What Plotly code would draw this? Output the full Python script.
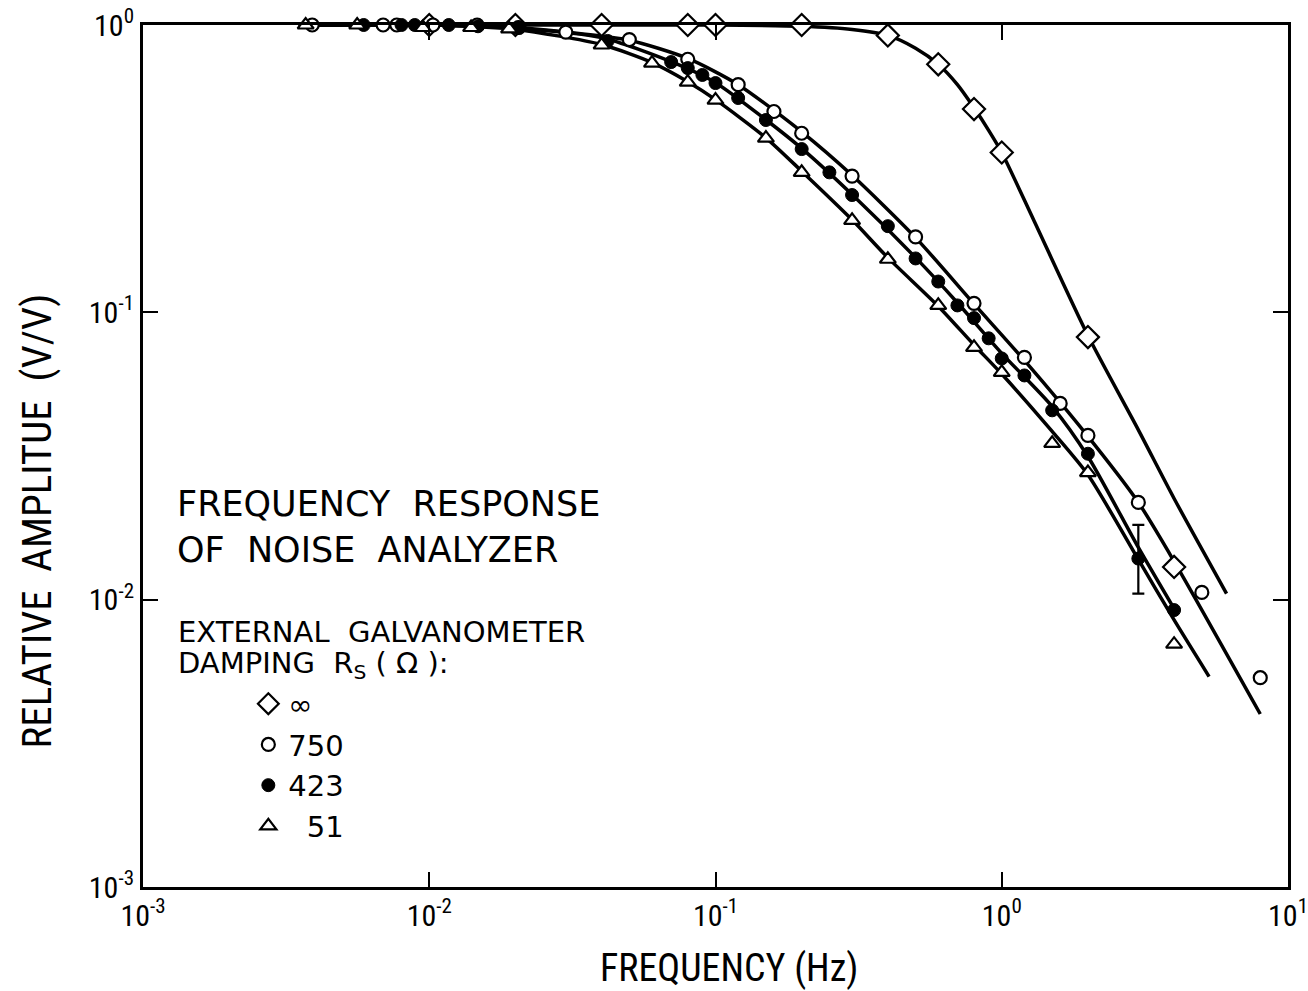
import plotly.graph_objects as go

# ---------------- data ----------------
# measured points
inf_x = [0.01, 0.02, 0.04, 0.08, 0.1, 0.2, 0.4, 0.6, 0.8, 1.0, 2.0, 4.0]
inf_y = [1.0, 1.0, 1.0, 1.0, 1.0, 1.0, 0.92, 0.73, 0.51, 0.36, 0.082, 0.013]

r750_x = [0.0039, 0.0069, 0.0077, 0.0103, 0.0147, 0.0205, 0.03, 0.05, 0.08, 0.12,
          0.16, 0.2, 0.3, 0.5, 0.8, 1.2, 1.6, 2.0, 3.0, 5.0, 8.0]
r750_y = [1.0, 1.0, 1.0, 1.0, 1.0, 0.98, 0.945, 0.89, 0.76, 0.62,
          0.50, 0.42, 0.298, 0.183, 0.1075, 0.0697, 0.0482, 0.0373, 0.0218, 0.0106, 0.00535]

r423_x = [0.0059, 0.008, 0.0089, 0.0117, 0.0148, 0.0205, 0.042, 0.07, 0.08, 0.09, 0.1,
          0.12, 0.15, 0.2, 0.25, 0.3, 0.4, 0.5, 0.6, 0.7, 0.8, 0.9, 1.0, 1.2, 1.5,
          2.0, 3.0, 4.0]
r423_y = [1.0, 1.0, 1.0, 1.0, 0.99, 0.98, 0.88, 0.743, 0.708, 0.67, 0.628,
          0.557, 0.467, 0.37, 0.307, 0.256, 0.1995, 0.154, 0.128, 0.1057, 0.0955, 0.0812, 0.0691, 0.0603, 0.0456,
          0.0322, 0.0139, 0.0092]
# error bar on the 423-ohm point at 3 Hz
err_index = 26
err_plus = 0.0043
err_minus = 0.0034

r51_x = [0.0037, 0.0056, 0.0095, 0.014, 0.019, 0.04, 0.06, 0.08, 0.1, 0.15,
         0.2, 0.3, 0.4, 0.6, 0.8, 1.0, 1.5, 2.0, 4.0]
r51_y = [1.0, 1.0, 0.98, 0.98, 0.97, 0.852, 0.737, 0.633, 0.548, 0.404,
         0.307, 0.209, 0.153, 0.1057, 0.0755, 0.0618, 0.035, 0.0277, 0.0070]

# hand-drawn fitted curves
inf_cx = [0.0035, 0.05, 0.1, 0.2, 0.3, 0.4, 0.5, 0.6, 0.7, 0.8, 0.9, 1.0, 1.3, 2.0, 3.0, 4.0, 6.1]
inf_cy = [1.0, 1.0, 1.0, 0.99, 0.965, 0.92, 0.83, 0.73, 0.62, 0.515, 0.43, 0.36, 0.207, 0.083, 0.039, 0.0225, 0.0105]

c750_x = [0.0035, 0.01, 0.02, 0.03, 0.05, 0.08, 0.12, 0.2, 0.3, 0.5, 0.8, 1.2, 2.0, 3.0, 4.0, 8.0]
c750_y = [1.0, 1.0, 0.98, 0.945, 0.885, 0.765, 0.62, 0.425, 0.3, 0.182, 0.107, 0.068, 0.037, 0.0218, 0.0136, 0.004]

c423_x = [0.0035, 0.01, 0.02, 0.04, 0.07, 0.1, 0.15, 0.2, 0.3, 0.5, 0.7, 1.0, 1.5, 2.0, 3.0, 4.0]
c423_y = [1.0, 1.0, 0.975, 0.905, 0.745, 0.63, 0.468, 0.372, 0.257, 0.155, 0.108, 0.072, 0.047, 0.0315, 0.0152, 0.0093]

c51_x = [0.0035, 0.01, 0.02, 0.04, 0.06, 0.08, 0.1, 0.15, 0.2, 0.3, 0.4, 0.6, 0.8, 1.0, 1.5, 2.0, 3.0, 4.0, 5.3]
c51_y = [1.0, 1.0, 0.965, 0.855, 0.74, 0.635, 0.55, 0.405, 0.31, 0.21, 0.155, 0.105, 0.077, 0.061, 0.0385, 0.0272, 0.0138, 0.0085, 0.0054]

# tick labels
x_tickvals = [0.001, 0.01, 0.1, 1, 10]
x_ticktext = ["10<sup>-3</sup>", "10<sup>-2</sup>", "10<sup>-1</sup>", "10<sup>0</sup>", "10<sup>1</sup>"]
y_tickvals = [0.001, 0.01, 0.1, 1]
y_ticktext = ["10<sup>-3</sup>", "10<sup>-2</sup>", "10<sup>-1</sup>", "10<sup>0</sup>"]

series_names = ["\u221e", "750", "423", "\u200751"]

# ---------------- figure ----------------
NARROW = "Liberation Sans Narrow, Roboto Condensed, DejaVu Sans Condensed, Liberation Sans, sans-serif"
WIDE = "DejaVu Sans, Verdana, sans-serif"

fig = go.Figure()

line_style = dict(color="black", width=3.5, shape="spline", smoothing=0.7)
for cx, cy in [(inf_cx, inf_cy), (c750_x, c750_y), (c423_x, c423_y), (c51_x, c51_y)]:
    fig.add_trace(go.Scatter(x=cx, y=cy, mode="lines", line=line_style,
                             showlegend=False, hoverinfo="skip", cliponaxis=False))

# error bar
fig.add_trace(go.Scatter(
    x=[r423_x[err_index]], y=[r423_y[err_index]], mode="markers",
    marker=dict(size=1, color="rgba(0,0,0,0)"),
    error_y=dict(type="data", symmetric=False, array=[err_plus], arrayminus=[err_minus],
                 color="black", thickness=2.2, width=6),
    showlegend=False, hoverinfo="skip", cliponaxis=False))

fig.add_trace(go.Scatter(
    x=inf_x, y=inf_y, mode="markers", name=series_names[0],
    marker=dict(symbol="diamond", size=17, color="white", line=dict(color="black", width=2.2)),
    cliponaxis=False))
fig.add_trace(go.Scatter(
    x=r750_x, y=r750_y, mode="markers", name=series_names[1],
    marker=dict(symbol="circle", size=13, color="white", line=dict(color="black", width=2.2)),
    cliponaxis=False))
fig.add_trace(go.Scatter(
    x=r423_x, y=r423_y, mode="markers", name=series_names[2],
    marker=dict(symbol="circle", size=13, color="black", line=dict(color="black", width=1)),
    cliponaxis=False))
fig.add_trace(go.Scatter(
    x=r51_x, y=r51_y, mode="markers", name=series_names[3],
    marker=dict(symbol="triangle-up", size=14, color="white", line=dict(color="black", width=2.2)),
    cliponaxis=False))

axis_common = dict(
    type="log", showgrid=False, zeroline=False,
    showline=True, linecolor="black", linewidth=3, mirror="ticks",
    ticks="inside", ticklen=15, tickwidth=2, tickcolor="black",
    ticklabeloverflow="allow",
    tickfont=dict(family=NARROW, size=30, color="black"),
)

fig.update_xaxes(range=[-3, 1], tickvals=x_tickvals, ticktext=x_ticktext, **axis_common)
fig.update_yaxes(range=[-3, 0], tickvals=y_tickvals, ticktext=y_ticktext, **axis_common)

annotations = [
    dict(text="FREQUENCY (Hz)", x=0.512, y=-0.094, xref="paper", yref="paper",
         showarrow=False, xanchor="center", yanchor="middle",
         font=dict(family=NARROW, size=38, color="black")),
    dict(text="RELATIVE  AMPLITUE  (V/V)", x=-0.093, y=0.4246, xref="paper", yref="paper",
         showarrow=False, xanchor="center", yanchor="middle", textangle=-90,
         font=dict(family=NARROW, size=41, color="black")),
    dict(text="FREQUENCY  RESPONSE", x=0.0278, y=0.444, xref="paper", yref="paper",
         showarrow=False, xanchor="left", yanchor="middle",
         font=dict(family=WIDE, size=35, color="black")),
    dict(text="OF  NOISE  ANALYZER", x=0.0278, y=0.391, xref="paper", yref="paper",
         showarrow=False, xanchor="left", yanchor="middle",
         font=dict(family=WIDE, size=35, color="black")),
    dict(text="EXTERNAL  GALVANOMETER", x=0.0288, y=0.296, xref="paper", yref="paper",
         showarrow=False, xanchor="left", yanchor="middle",
         font=dict(family=WIDE, size=29, color="black")),
    dict(text="DAMPING  R<sub>S</sub> ( \u03a9 ):", x=0.0288, y=0.258, xref="paper", yref="paper",
         showarrow=False, xanchor="left", yanchor="middle",
         font=dict(family=WIDE, size=29, color="black")),
]

fig.update_layout(
    width=1308, height=991,
    margin=dict(l=143, r=20, t=25, b=104, autoexpand=False),
    paper_bgcolor="white", plot_bgcolor="white",
    showlegend=True,
    legend=dict(x=0.092, y=0.242, xanchor="left", yanchor="top",
                bgcolor="rgba(0,0,0,0)", borderwidth=0,
                font=dict(family=WIDE, size=29, color="black"),
                itemsizing="trace", tracegroupgap=0),
    annotations=annotations,
    font=dict(family=WIDE, color="black"),
)

fig.write_html("out.html")
